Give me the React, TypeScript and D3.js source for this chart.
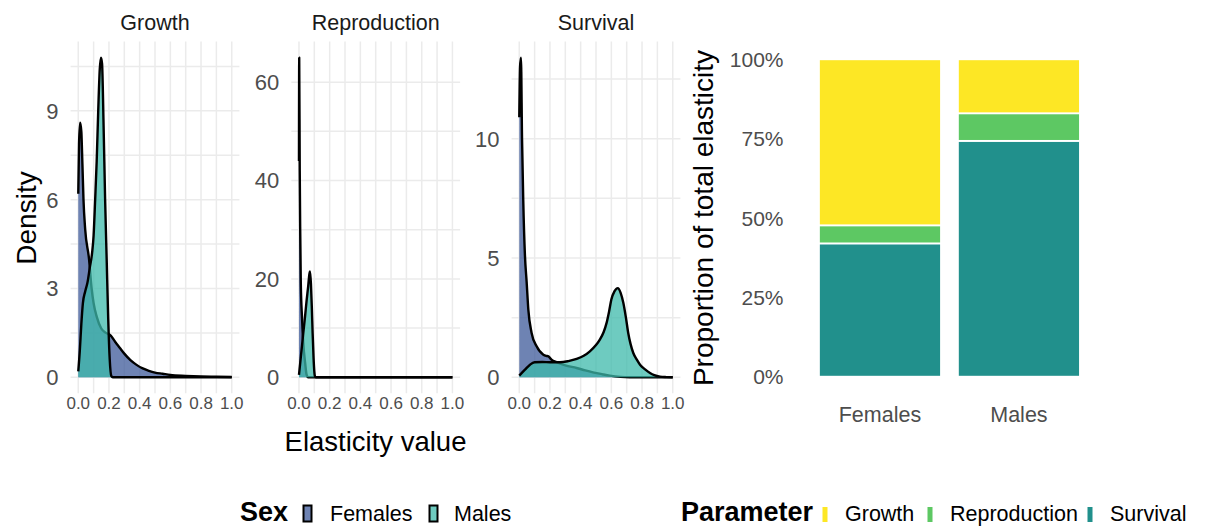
import React from "react";
import * as d3 from "d3";

// ---------- DATA ----------
const facets = ["Growth", "Reproduction", "Survival"];
const sexes = ["Females", "Males"];
const parameters = ["Growth", "Reproduction", "Survival"];

const growthFemales: [number, number][] = [
  [0, 6.2], [0.005, 7.9], [0.012, 8.6], [0.02, 8.3], [0.027, 7.2], [0.034, 6.0],
  [0.045, 5.0], [0.07, 4.0], [0.087, 3.0], [0.1, 2.5], [0.12, 2.05], [0.15, 1.65],
  [0.18, 1.5], [0.21, 1.42], [0.24, 1.2], [0.27, 1.0], [0.3, 0.8], [0.34, 0.58],
  [0.38, 0.42], [0.42, 0.3], [0.46, 0.22], [0.5, 0.16], [0.55, 0.12], [0.6, 0.08],
  [0.7, 0.05], [0.8, 0.03], [0.9, 0.02], [1.0, 0.01],
];
const growthMales: [number, number][] = [
  [0, 0.2], [0.01, 0.9], [0.02, 1.8], [0.03, 2.5], [0.045, 2.9], [0.06, 3.2],
  [0.075, 3.7], [0.09, 4.2], [0.1, 4.8], [0.11, 6.0], [0.12, 7.3], [0.13, 9.0],
  [0.14, 10.4], [0.148, 10.8], [0.155, 10.6], [0.165, 8.5], [0.175, 6.0],
  [0.185, 4.0], [0.195, 2.0], [0.205, 0.6], [0.215, 0.05], [0.225, 0], [1.0, 0],
];
const reproFemales: [number, number][] = [
  [0, 44], [0.0015, 65], [0.005, 42], [0.008, 30], [0.012, 19], [0.02, 12],
  [0.028, 7], [0.04, 3], [0.05, 0.5], [0.06, 0], [1.0, 0],
];
const reproMales: [number, number][] = [
  [0, 0.5], [0.01, 3.5], [0.02, 6.5], [0.028, 9], [0.04, 12.5], [0.05, 15.7],
  [0.06, 18.5], [0.068, 21], [0.072, 21.5], [0.078, 19], [0.084, 14], [0.089, 9],
  [0.095, 4], [0.1, 1.2], [0.104, 0.2], [0.11, 0], [1.0, 0],
];
const survivalFemales: [number, number][] = [
  [0, 10.9], [0.005, 13.0], [0.011, 13.4], [0.018, 10.0], [0.026, 7.4], [0.037, 5.1],
  [0.048, 4.0], [0.059, 2.84], [0.08, 1.87], [0.113, 1.3], [0.157, 0.95], [0.175, 0.9],
  [0.19, 0.88], [0.21, 0.74], [0.243, 0.63], [0.3, 0.5], [0.374, 0.39], [0.43, 0.29],
  [0.48, 0.21], [0.54, 0.13], [0.59, 0.07], [0.66, 0.02], [0.72, 0.005], [1.0, 0],
];
const survivalMales: [number, number][] = [
  [0, 0.07], [0.037, 0.32], [0.07, 0.53], [0.1, 0.63], [0.15, 0.64], [0.2, 0.63],
  [0.265, 0.63], [0.32, 0.68], [0.374, 0.77], [0.42, 0.9], [0.46, 1.09], [0.5, 1.35],
  [0.525, 1.58], [0.55, 1.9], [0.569, 2.28], [0.585, 2.75], [0.6, 3.26], [0.62, 3.6],
  [0.642, 3.74], [0.66, 3.55], [0.678, 3.12], [0.695, 2.5], [0.71, 1.86], [0.725, 1.4],
  [0.743, 1.02], [0.765, 0.75], [0.787, 0.53], [0.82, 0.33], [0.852, 0.18], [0.88, 0.09],
  [0.917, 0.03], [0.96, 0.01], [1.0, 0],
];

const growthYTicks = [0, 3, 6, 9];
const reproYTicks = [0, 20, 40, 60];
const survivalYTicks = [0, 5, 10];
const xTicks = [0, 0.2, 0.4, 0.6, 0.8, 1.0];

const barCategories = ["Females", "Males"];
const growthShare = [0.523, 0.17];
const reproductionShare = [0.057, 0.087];
const survivalShare = [0.42, 0.743];
const percentTicks = [0, 0.25, 0.5, 0.75, 1];

// ---------- STYLE ----------
const FONT = "'Liberation Sans', Arial, sans-serif";
const sexColor: Record<string, string> = { Females: "#3E5A9A", Males: "#3EBAAB" };
const paramColor: Record<string, string> = {
  Growth: "#FDE725",
  Reproduction: "#5DC863",
  Survival: "#21908C",
};
const GRID = "#EBEBEB";
const TICK = "#4D4D4D";

const panelTop = 41.6;
const panelBottom = 393.3;
const panelWidth = 168.8;
const panelLefts = [70.6, 291.3, 511.6];

const facetData = [
  { name: facets[0], f: growthFemales, m: growthMales, ticks: growthYTicks },
  { name: facets[1], f: reproFemales, m: reproMales, ticks: reproYTicks },
  { name: facets[2], f: survivalFemales, m: survivalMales, ticks: survivalYTicks },
];

function DensityPanel({ idx }: { idx: number }) {
  const d = facetData[idx];
  const left = panelLefts[idx];
  const x = d3.scaleLinear().domain([-0.05, 1.05]).range([left, left + panelWidth]);
  const ymax = d3.max([...d.f, ...d.m], (p) => p[1]) as number;
  const y = d3.scaleLinear().domain([-0.05 * ymax, 1.05 * ymax]).range([panelBottom, panelTop]);
  const step = d.ticks[1] - d.ticks[0];
  const hGrid: number[] = [];
  for (let v = 0; v <= 1.05 * ymax; v += step / 2) hGrid.push(v);
  const vGrid = d3.range(0, 11).map((i) => i / 10);
  const area = d3
    .area<[number, number]>()
    .x((p) => x(p[0]))
    .y0(y(0))
    .y1((p) => y(p[1]))
    .curve(d3.curveMonotoneX);
  const line = d3
    .line<[number, number]>()
    .x((p) => x(p[0]))
    .y((p) => y(p[1]))
    .curve(d3.curveMonotoneX);
  return (
    <g>
      {hGrid.map((v, i) => (
        <line key={"h" + i} x1={left} x2={left + panelWidth} y1={y(v)} y2={y(v)} stroke={GRID} strokeWidth={1.5} />
      ))}
      {vGrid.map((v, i) => (
        <line key={"v" + i} x1={x(v)} x2={x(v)} y1={panelTop} y2={panelBottom} stroke={GRID} strokeWidth={1.5} />
      ))}
      <path d={area(d.f) as string} fill={sexColor.Females} fillOpacity={0.75} />
      <path d={line(d.f) as string} fill="none" stroke="#000" strokeWidth={2.4} strokeLinejoin="round" />
      <path d={area(d.m) as string} fill={sexColor.Males} fillOpacity={0.75} />
      <path d={line(d.m) as string} fill="none" stroke="#000" strokeWidth={2.4} strokeLinejoin="round" />
      {d.ticks.map((t) => (
        <text key={"yt" + t} x={left - 12} y={y(t)} dy="0.36em" textAnchor="end" fontSize={22} fill={TICK}>
          {t}
        </text>
      ))}
      {xTicks.map((t) => (
        <text key={"xt" + t} x={x(t)} y={408.5} textAnchor="middle" fontSize={17} fill={TICK}>
          {t.toFixed(1)}
        </text>
      ))}
      <text x={left + panelWidth / 2} y={29.5} textAnchor="middle" fontSize={21.5} fill="#1A1A1A">
        {d.name}
      </text>
    </g>
  );
}

function BarPanel() {
  const x = d3.scaleBand().domain(barCategories).range([810.5, 1088.4]).paddingInner(0.1217).paddingOuter(0.0608);
  const y = d3.scaleLinear().domain([0, 1]).range([376.7, 59.3]);
  const rows = barCategories.map((c, i) => ({
    cat: c,
    Survival: survivalShare[i],
    Reproduction: reproductionShare[i],
    Growth: growthShare[i],
  }));
  const stack = d3.stack<any>().keys(["Survival", "Reproduction", "Growth"]);
  const series = stack(rows);
  const fmt = d3.format(".0%");
  return (
    <g>
      {series.map((s) =>
        s.map((seg, i) => (
          <rect
            key={s.key + i}
            x={x(rows[i].cat) as number}
            width={x.bandwidth()}
            y={y(seg[1])}
            height={y(seg[0]) - y(seg[1])}
            fill={paramColor[s.key]}
            stroke="#fff"
            strokeWidth={1.8}
          />
        ))
      )}
      {percentTicks.map((t) => (
        <text key={t} x={783.5} y={y(t)} dy="0.36em" textAnchor="end" fontSize={21} fill={TICK}>
          {fmt(t)}
        </text>
      ))}
      {barCategories.map((c) => (
        <text key={c} x={(x(c) as number) + x.bandwidth() / 2} y={421.5} textAnchor="middle" fontSize={21.5} fill={TICK}>
          {c}
        </text>
      ))}
      <text
        transform={`translate(713,218) rotate(-90)`}
        textAnchor="middle"
        fontSize={28}
        fill="#000"
      >
        Proportion of total elasticity
      </text>
    </g>
  );
}

function Legends() {
  const sexKeys = [
    { label: sexes[0], kx: 303.5, tx: 330 },
    { label: sexes[1], kx: 429.5, tx: 454 },
  ];
  const paramKeys = [
    { label: parameters[0], kx: 822.5, tx: 845 },
    { label: parameters[1], kx: 927.5, tx: 950 },
    { label: parameters[2], kx: 1087.5, tx: 1110 },
  ];
  return (
    <g>
      <text x={240} y={521} fontSize={27} fontWeight="bold" fill="#000">Sex</text>
      {sexKeys.map((k) => (
        <g key={k.label}>
          <rect x={k.kx} y={505.5} width={8} height={16} fill="#fff" />
          <rect x={k.kx} y={505.5} width={8} height={16} fill={sexColor[k.label]} fillOpacity={0.75} stroke="#000" strokeWidth={2} />
          <text x={k.tx} y={521} fontSize={21.5} fill="#000">{k.label}</text>
        </g>
      ))}
      <text x={681} y={521} fontSize={27} fontWeight="bold" fill="#000">Parameter</text>
      {paramKeys.map((k) => (
        <g key={k.label}>
          <rect x={k.kx} y={507} width={5} height={15} fill={paramColor[k.label]} />
          <text x={k.tx} y={521} fontSize={21.5} fill="#000">{k.label}</text>
        </g>
      ))}
    </g>
  );
}

export default function App() {
  return (
    <svg
      width={1227}
      height={529}
      style={{ position: "absolute", left: 0, top: 0, background: "#fff" }}
      fontFamily={FONT}
    >
      <rect width={1227} height={529} fill="#fff" />
      {facetData.map((_, i) => (
        <DensityPanel key={i} idx={i} />
      ))}
      <text transform="translate(36,218) rotate(-90)" textAnchor="middle" fontSize={28} fill="#000">
        Density
      </text>
      <text x={375.5} y={451} textAnchor="middle" fontSize={27.5} fill="#000">
        Elasticity value
      </text>
      <BarPanel />
      <Legends />
    </svg>
  );
}
